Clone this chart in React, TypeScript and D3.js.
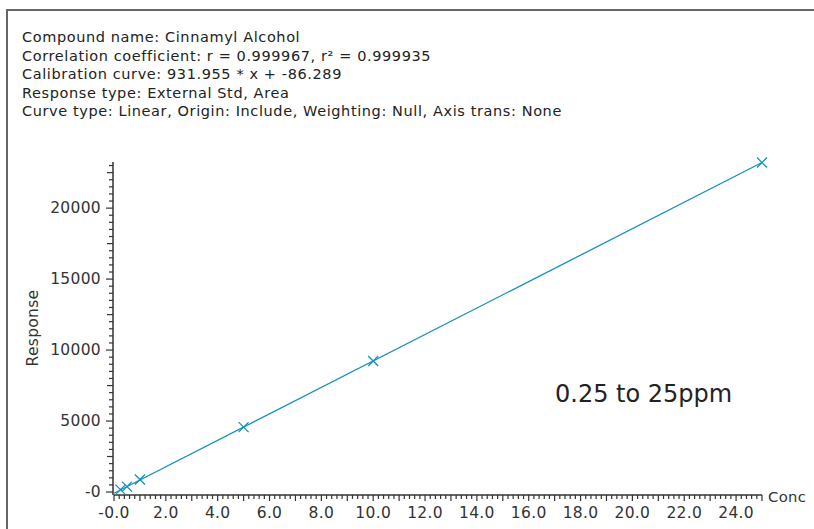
import { useEffect, useRef } from "react";
import * as d3 from "d3";

// calibration standards (ppm) and measured response
const conc = [0.25, 0.5, 1, 5, 10, 25];
const response = [170, 380, 880, 4570, 9230, 23210];

const slope = 931.955;
const intercept = -86.289;

const infoLines = [
  "Compound name: Cinnamyl Alcohol",
  "Correlation coefficient: r = 0.999967, r² = 0.999935",
  "Calibration curve: 931.955 * x + -86.289",
  "Response type: External Std, Area",
  "Curve type: Linear, Origin: Include, Weighting: Null, Axis trans: None",
];

const xLabelTicks = [0, 2, 4, 6, 8, 10, 12, 14, 16, 18, 20, 22, 24];
const yLabelTicks = [0, 5000, 10000, 15000, 20000];

const LINE = "#168fbd";
const AXIS = "#333";
const FONT = "'DejaVu Sans', Verdana, sans-serif";

export default function App() {
  const svgRef = useRef<SVGSVGElement>(null);

  useEffect(() => {
    if (!svgRef.current) return;
    const W = 814, H = 529;
    const svg = d3.select(svgRef.current);
    svg.selectAll("*").remove();

    // frame
    svg.append("path")
      .attr("d", `M7,${H + 5} V10 H${W + 5}`)
      .attr("fill", "none").attr("stroke", "#666").attr("stroke-width", 2);

    // header text
    svg.append("g")
      .attr("font-family", FONT)
      .attr("font-size", 14.5)
      .attr("letter-spacing", 0.6)
      .attr("fill", "#222")
      .selectAll("text")
      .data(infoLines)
      .join("text")
      .attr("x", 22)
      .attr("y", (_, i) => 42 + i * 18.6)
      .text(d => d);

    const x = d3.scaleLinear().domain([0, 25]).range([114, 762]);
    const y = d3.scaleLinear().domain([-210, 23250]).range([495, 162]);

    const g = svg.append("g").attr("font-family", FONT).attr("fill", AXIS).attr("letter-spacing", 0.3);

    // x axis
    g.append("line")
      .attr("x1", x(0)).attr("x2", x(25))
      .attr("y1", y(-210)).attr("y2", y(-210))
      .attr("stroke", AXIS).attr("stroke-width", 1.5);
    const xMinor = d3.range(0, 125 + 1).map(i => i * 0.2);
    g.selectAll(".xt")
      .data(xMinor)
      .join("line")
      .attr("x1", d => x(d)).attr("x2", d => x(d))
      .attr("y1", y(-210))
      .attr("y2", (_, i) => y(-210) + (i % 5 === 0 ? 6 : 4))
      .attr("stroke", AXIS).attr("stroke-width", 1.2);
    g.selectAll(".xl")
      .data(xLabelTicks)
      .join("text")
      .attr("x", d => x(d))
      .attr("y", 518)
      .attr("text-anchor", "middle")
      .attr("font-size", 15.5)
      .text(d => (d === 0 ? "-0.0" : d.toFixed(1)));
    g.append("text")
      .attr("x", 768).attr("y", 502)
      .attr("font-size", 14.8)
      .text("Conc");

    // y axis
    g.append("line")
      .attr("x1", 113).attr("x2", 113)
      .attr("y1", y(-210)).attr("y2", y(23250))
      .attr("stroke", AXIS).attr("stroke-width", 1.5);
    const yMinor = d3.range(0, 46 + 1).map(i => i * 500);
    g.selectAll(".yt")
      .data(yMinor)
      .join("line")
      .attr("x1", 113)
      .attr("x2", (d) => 113 - (d % 5000 === 0 ? 7 : d % 2500 === 0 ? 6 : 4))
      .attr("y1", d => y(d)).attr("y2", d => y(d))
      .attr("stroke", AXIS).attr("stroke-width", 1.2);
    g.selectAll(".yl")
      .data(yLabelTicks)
      .join("text")
      .attr("x", 101)
      .attr("y", d => y(d) + 5)
      .attr("text-anchor", "end")
      .attr("font-size", 15.5)
      .text(d => (d === 0 ? "-0" : String(d)));
    g.append("text")
      .attr("transform", `translate(38,328) rotate(-90)`)
      .attr("text-anchor", "middle")
      .attr("font-size", 15.5)
      .text("Response");

    // fitted line
    const fit = d3.line<number>()
      .x(d => x(d))
      .y(d => y(slope * d + intercept));
    svg.append("path")
      .datum([0, 25])
      .attr("d", fit)
      .attr("fill", "none").attr("stroke", LINE).attr("stroke-width", 1.3);

    // markers
    const s = 5;
    svg.append("g").selectAll("path")
      .data(conc.map((c, i) => [c, response[i]]))
      .join("path")
      .attr("d", d => {
        const cx = x(d[0]), cy = y(d[1]);
        return `M${cx - s},${cy - s}L${cx + s},${cy + s}M${cx - s},${cy + s}L${cx + s},${cy - s}`;
      })
      .attr("stroke", LINE).attr("stroke-width", 1.3).attr("fill", "none");

    svg.append("text")
      .attr("x", 555).attr("y", 402)
      .attr("font-family", FONT)
      .attr("font-size", 24)
      .attr("fill", "#222")
      .text("0.25 to 25ppm");
  }, []);

  return (
    <svg
      ref={svgRef}
      width={814}
      height={529}
      style={{ position: "absolute", left: 0, top: 0, background: "#fff", display: "block" }}
    />
  );
}
